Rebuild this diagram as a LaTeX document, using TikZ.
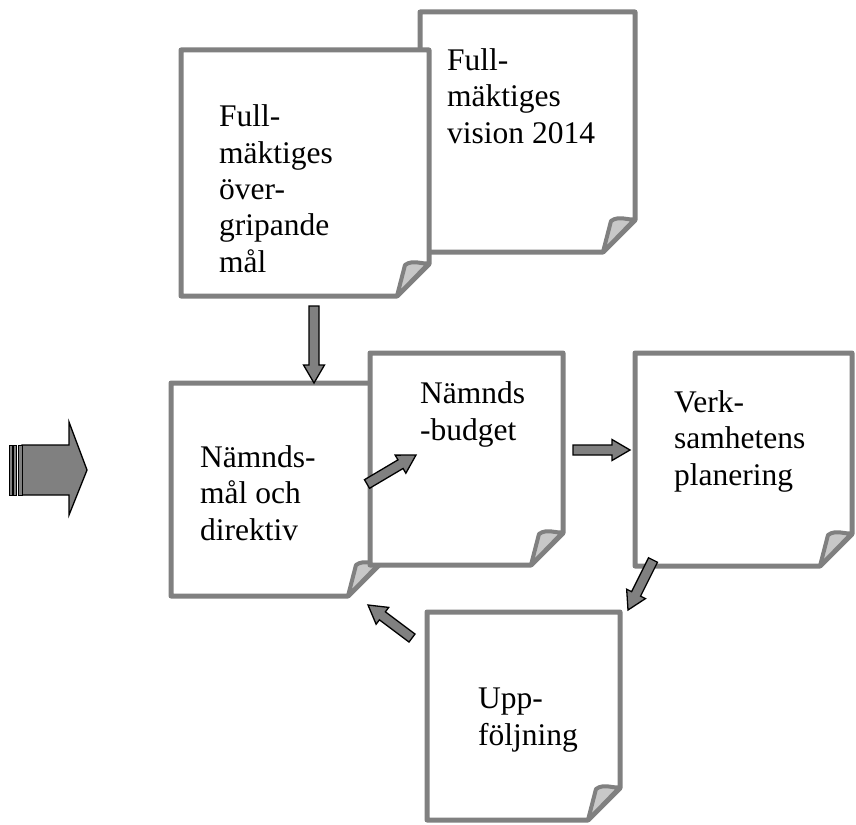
\documentclass[tikz,border=0pt]{standalone}
\usepackage{fontspec}
\setmainfont{Liberation Serif}
\usetikzlibrary{calc,positioning}

\definecolor{sheetgray}{RGB}{128,128,128}
\definecolor{flapgray}{RGB}{200,200,200}
\definecolor{arrowgray}{RGB}{128,128,128}

% sheet of paper with a curled corner: x0, y0, x1, y1
\newcommand{\sheet}[4]{%
  \path[sheet] (#1,#2) -- (#3,#2) -- (#3,#4-32) -- (#3-32,#4) -- (#1,#4) -- cycle;
  \path[flap] (#3-32,#4) -- (#3-24,#4-31) .. controls (#3-16,#4-37) and (#3-6,#4-31) .. (#3,#4-33) -- cycle;
}

% fat arrow from one named coordinate to another
\newcommand{\fatarrow}[2]{%
  \coordinate (hb) at ($(#2)!18pt!(#1)$);
  \draw[blockarr] ($(#1)!5pt!90:(#2)$) -- ($(hb)!5pt!90:(#2)$) -- ($(hb)!10.5pt!90:(#2)$)
    -- (#2) -- ($(hb)!10.5pt!-90:(#2)$) -- ($(hb)!5pt!-90:(#2)$) -- ($(#1)!5pt!-90:(#2)$) -- cycle;
}

\tikzset{
  sheet/.style={draw=sheetgray, line width=5pt, fill=white, line join=round},
  flap/.style={draw=sheetgray, line width=4pt, fill=flapgray, line join=round},
  % base anchor sits on the last line
  lbl/.style={anchor=base west, align=left, inner sep=0pt,
    font=\fontsize{31.5}{36.3}\selectfont},
  blockarr/.style={draw=black, line width=1.3pt, fill=arrowgray, line join=miter},
}

\begin{document}
\begin{tikzpicture}[x=1pt, y=-1pt]
\useasboundingbox (0,0) rectangle (856,824);

\sheet{420}{12}{635}{252}
\node[lbl] (vision) at (447,143) {Full-\\mäktiges\\vision 2014};

\sheet{181}{50}{429}{296}
\node[lbl] (overgr) at (219,272) {Full-\\mäktiges\\över-\\gripande\\mål};

\sheet{171}{383}{380}{596}
\node[lbl] (mal) at (200,540) {Nämnds-\\mål och\\direktiv};

\sheet{370}{353}{563}{565}
\node[lbl] (budget) at (420,440) {Nämnds\\-budget};

\sheet{635}{353}{852}{566}
\node[lbl] (plan) at (674,485) {Verk-\\samhetens\\planering};

\sheet{427}{612}{620}{820}
\node[lbl] (uppf) at (478,745) {Upp-\\följning};

% arrow ends
\coordinate (overgr-out) at (314,306);
\coordinate (mal-in) at (314,383);
\coordinate (mal-out) at (367,484);
\coordinate (budget-in) at (416,455);
\coordinate (budget-out) at (573,450);
\coordinate (plan-in) at (630,450);
\coordinate (plan-out) at (653,560);
\coordinate (uppf-in) at (628,610);
\coordinate (uppf-out) at (412,638);
\coordinate (mal-back) at (368,605);

\fatarrow{overgr-out}{mal-in}
\fatarrow{mal-out}{budget-in}
\fatarrow{budget-out}{plan-in}
\fatarrow{plan-out}{uppf-in}
\fatarrow{uppf-out}{mal-back}

% big arrow on the left
\draw[blockarr] (22,445) -- (69,445) -- (69,422) -- (87,470) -- (69,515) -- (69,495) -- (22,495) -- cycle;
\draw[blockarr, line width=1pt] (9.5,445) rectangle (12,495);
\draw[blockarr, line width=1pt] (13.5,445) rectangle (16.5,495);
\draw[blockarr, line width=1pt] (18,445) rectangle (22,495);
\end{tikzpicture}
\end{document}
